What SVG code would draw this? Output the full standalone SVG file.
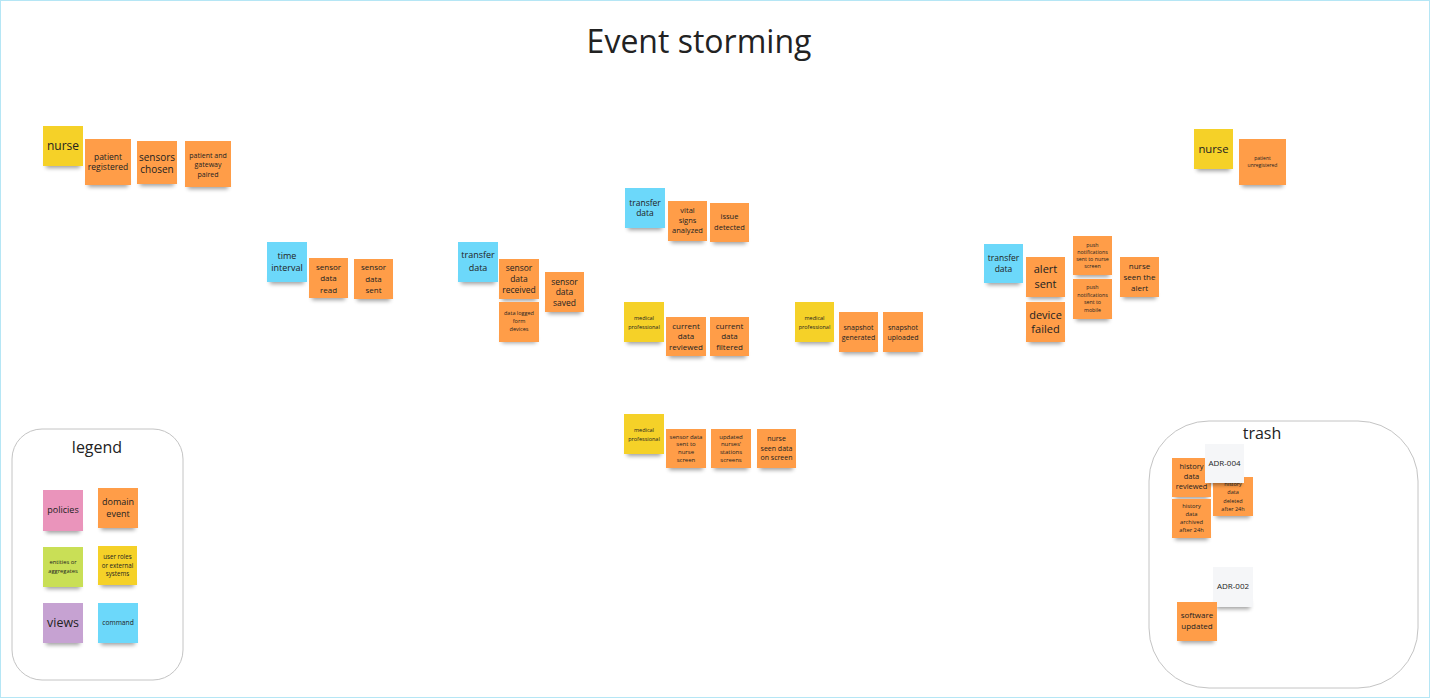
<svg xmlns="http://www.w3.org/2000/svg" width="1430" height="698" viewBox="0 0 1430 698">
<style>
text{font-family:"Open Sans","Noto Sans","Liberation Sans",sans-serif;fill:#222;text-anchor:middle}
.y{fill:#f5d128}.o{fill:#ff9d48}.b{fill:#6cd8fa}.p{fill:#ea94bb}.g{fill:#c9df56}.v{fill:#c6a2d2}.w{fill:#f5f6f8}
.s{fill:#000;opacity:.38;filter:url(#sh)}
.frame{fill:#fff;stroke:#c4c4c4;stroke-width:1}
</style>
<defs>
<filter id="sh" x="-20%" y="-100%" width="140%" height="300%"><feGaussianBlur stdDeviation="2"/></filter>
</defs>
<rect x="0" y="0" width="1430" height="698" fill="#fff"/>
<rect x="0.5" y="0.5" width="1429" height="697" fill="none" stroke="#b5e6f5"/>
<text x="699" y="53" font-size="32" fill="#1a1a1a">Event storming</text>

<g id="legend">
<rect class="frame" x="12" y="429" width="171" height="251" rx="30"/>
<text x="97" y="453" font-size="16" fill="#333">legend</text>
</g>
<g id="trash">
<rect class="frame" x="1149" y="421" width="269" height="267" rx="60"/>
<text x="1262" y="439" font-size="16" fill="#333">trash</text>
</g>

<g id="connectors"></g>

<g id="n-nurse1"><rect class="s" x="46" y="160" width="34" height="8"/><rect class="y" x="43" y="126" width="40" height="40"/><text x="63" y="150.2" font-size="12">nurse</text></g>
<g id="n-patient-registered"><rect class="s" x="88" y="179" width="40" height="8"/><rect class="o" x="85" y="139" width="46" height="46"/><text x="108" font-size="8.5"><tspan x="108" y="159.8">patient</tspan><tspan x="108" y="170.3">registered</tspan></text></g>
<g id="n-sensors-chosen"><rect class="s" x="140" y="178" width="34" height="8"/><rect class="o" x="137" y="141" width="40" height="43"/><text font-size="10"><tspan x="157" y="160.5">sensors</tspan><tspan x="157" y="172.5">chosen</tspan></text></g>
<g id="n-paired"><rect class="s" x="188" y="181" width="40" height="8"/><rect class="o" x="185" y="141" width="46" height="46"/><text font-size="7"><tspan x="208" y="157.5">patient and</tspan><tspan x="208" y="167">gateway</tspan><tspan x="208" y="176.5">paired</tspan></text></g>

<g id="n-time-interval"><rect class="s" x="270" y="276" width="34" height="8"/><rect class="b" x="267" y="242" width="40" height="40"/><text font-size="9"><tspan x="287" y="259.2">time</tspan><tspan x="287" y="271.2">interval</tspan></text></g>
<g id="n-sensor-data-read"><rect class="s" x="312" y="292" width="33" height="8"/><rect class="o" x="309" y="258" width="39" height="40"/><text font-size="8"><tspan x="328.5" y="269.8">sensor</tspan><tspan x="328.5" y="281.3">data</tspan><tspan x="328.5" y="292.8">read</tspan></text></g>
<g id="n-sensor-data-sent"><rect class="s" x="357" y="293" width="33" height="8"/><rect class="o" x="354" y="259" width="39" height="40"/><text font-size="8"><tspan x="373.5" y="270.3">sensor</tspan><tspan x="373.5" y="281.8">data</tspan><tspan x="373.5" y="293.3">sent</tspan></text></g>

<g id="n-transfer-data1"><rect class="s" x="461" y="276" width="34" height="8"/><rect class="b" x="458" y="242" width="40" height="40"/><text font-size="9"><tspan x="478" y="258.4">transfer</tspan><tspan x="478" y="270.9">data</tspan></text></g>
<g id="n-sensor-data-received"><rect class="s" x="502" y="293" width="34" height="8"/><rect class="o" x="499" y="259" width="40" height="40"/><text font-size="8.5"><tspan x="519" y="270.8">sensor</tspan><tspan x="519" y="282">data</tspan><tspan x="519" y="293.2">received</tspan></text></g>
<g id="n-sensor-data-saved"><rect class="s" x="548" y="306" width="33" height="8"/><rect class="o" x="545" y="272" width="39" height="40"/><text font-size="8.5"><tspan x="564.5" y="284.7">sensor</tspan><tspan x="564.5" y="295.3">data</tspan><tspan x="564.5" y="305.7">saved</tspan></text></g>
<g id="n-data-logged"><rect class="s" x="502" y="335" width="34" height="8"/><rect class="o" x="499" y="302" width="40" height="40"/><text font-size="5.5"><tspan x="519" y="314.6">data logged</tspan><tspan x="519" y="322.9">form</tspan><tspan x="519" y="331.2">devices</tspan></text></g>

<g id="n-transfer-data2"><rect class="s" x="628" y="222" width="34" height="8"/><rect class="b" x="625" y="188" width="40" height="40"/><text font-size="8.5"><tspan x="645" y="205.7">transfer</tspan><tspan x="645" y="216.3">data</tspan></text></g>
<g id="n-vital-signs"><rect class="s" x="671" y="235" width="33" height="8"/><rect class="o" x="668" y="201" width="39" height="40"/><text font-size="7.5"><tspan x="687.5" y="212.6">vital</tspan><tspan x="687.5" y="222.9">signs</tspan><tspan x="687.5" y="233.2">analyzed</tspan></text></g>
<g id="n-issue-detected"><rect class="s" x="713" y="236" width="33" height="8"/><rect class="o" x="710" y="203" width="39" height="39"/><text font-size="7.5"><tspan x="729.5" y="219.3">issue</tspan><tspan x="729.5" y="229.9">detected</tspan></text></g>

<g id="n-medical1"><rect class="s" x="627" y="336" width="34" height="8"/><rect class="y" x="624" y="302" width="40" height="40"/><text font-size="5.5"><tspan x="644" y="320.2">medical</tspan><tspan x="644" y="328.5">professional</tspan></text></g>
<g id="n-current-reviewed"><rect class="s" x="669" y="350" width="34" height="8"/><rect class="o" x="666" y="317" width="40" height="39"/><text font-size="8"><tspan x="686" y="328.8">current</tspan><tspan x="686" y="339.3">data</tspan><tspan x="686" y="349.8">reviewed</tspan></text></g>
<g id="n-current-filtered"><rect class="s" x="713" y="350" width="33" height="8"/><rect class="o" x="710" y="317" width="39" height="39"/><text font-size="8"><tspan x="729.5" y="328.8">current</tspan><tspan x="729.5" y="339.3">data</tspan><tspan x="729.5" y="349.8">filtered</tspan></text></g>

<g id="n-medical2"><rect class="s" x="798" y="336" width="33" height="8"/><rect class="y" x="795" y="302" width="39" height="40"/><text font-size="5.5"><tspan x="814.5" y="320.2">medical</tspan><tspan x="814.5" y="328.5">professional</tspan></text></g>
<g id="n-snapshot-generated"><rect class="s" x="842" y="346" width="33" height="8"/><rect class="o" x="839" y="312" width="39" height="40"/><text font-size="7"><tspan x="858.5" y="329.5">snapshot</tspan><tspan x="858.5" y="339.5">generated</tspan></text></g>
<g id="n-snapshot-uploaded"><rect class="s" x="886" y="346" width="34" height="8"/><rect class="o" x="883" y="312" width="40" height="40"/><text font-size="7"><tspan x="903" y="329.5">snapshot</tspan><tspan x="903" y="339.5">uploaded</tspan></text></g>

<g id="n-medical3"><rect class="s" x="627" y="448" width="34" height="8"/><rect class="y" x="624" y="414" width="40" height="40"/><text font-size="5.5"><tspan x="644" y="432.2">medical</tspan><tspan x="644" y="440.5">professional</tspan></text></g>
<g id="n-sent-nurse-screen"><rect class="s" x="669" y="462" width="34" height="8"/><rect class="o" x="666" y="429" width="40" height="39"/><text font-size="6"><tspan x="686" y="438.7">sensor data</tspan><tspan x="686" y="446.3">sent to</tspan><tspan x="686" y="453.9">nurse</tspan><tspan x="686" y="461.5">screen</tspan></text></g>
<g id="n-updated-stations"><rect class="s" x="714" y="462" width="34" height="8"/><rect class="o" x="711" y="429" width="40" height="39"/><text font-size="6"><tspan x="731" y="438.7">updated</tspan><tspan x="731" y="446.3">nurses'</tspan><tspan x="731" y="453.9">stations</tspan><tspan x="731" y="461.5">screens</tspan></text></g>
<g id="n-nurse-seen-data"><rect class="s" x="760" y="462" width="33" height="8"/><rect class="o" x="757" y="429" width="39" height="39"/><text font-size="7"><tspan x="776.5" y="440.8">nurse</tspan><tspan x="776.5" y="450.5">seen data</tspan><tspan x="776.5" y="460.2">on screen</tspan></text></g>

<g id="n-transfer-data3"><rect class="s" x="987" y="277" width="33" height="8"/><rect class="b" x="984" y="244" width="39" height="39"/><text font-size="8.5"><tspan x="1003.5" y="261.3">transfer</tspan><tspan x="1003.5" y="272">data</tspan></text></g>
<g id="n-alert-sent"><rect class="s" x="1029" y="291" width="33" height="8"/><rect class="o" x="1026" y="257" width="39" height="40"/><text font-size="11"><tspan x="1045.5" y="273.2">alert</tspan><tspan x="1045.5" y="288.2">sent</tspan></text></g>
<g id="n-device-failed"><rect class="s" x="1029" y="336" width="33" height="8"/><rect class="o" x="1026" y="302" width="39" height="40"/><text font-size="11"><tspan x="1045.5" y="318.9">device</tspan><tspan x="1045.5" y="333.2">failed</tspan></text></g>
<g id="n-push-screen"><rect class="s" x="1076" y="269" width="33" height="8"/><rect class="o" x="1073" y="236" width="39" height="39"/><text font-size="5.3"><tspan x="1092.5" y="246.9">push</tspan><tspan x="1092.5" y="253.9">notifications</tspan><tspan x="1092.5" y="260.9">sent to nurse</tspan><tspan x="1092.5" y="267.9">screen</tspan></text></g>
<g id="n-push-mobile"><rect class="s" x="1076" y="313" width="33" height="8"/><rect class="o" x="1073" y="279" width="39" height="40"/><text font-size="5.3"><tspan x="1092.5" y="289.4">push</tspan><tspan x="1092.5" y="296.9">notifications</tspan><tspan x="1092.5" y="304.4">sent to</tspan><tspan x="1092.5" y="311.9">mobile</tspan></text></g>
<g id="n-nurse-seen-alert"><rect class="s" x="1123" y="291" width="33" height="8"/><rect class="o" x="1120" y="257" width="39" height="40"/><text font-size="8"><tspan x="1139.5" y="268.8">nurse</tspan><tspan x="1139.5" y="280">seen the</tspan><tspan x="1139.5" y="291.2">alert</tspan></text></g>

<g id="n-nurse2"><rect class="s" x="1197" y="163" width="33" height="8"/><rect class="y" x="1194" y="129" width="39" height="40"/><text x="1213.5" y="153.3" font-size="11.3">nurse</text></g>
<g id="n-patient-unregistered"><rect class="s" x="1242" y="179" width="41" height="8"/><rect class="o" x="1239" y="139" width="47" height="46"/><text font-size="5"><tspan x="1262.5" y="160.1">patient</tspan><tspan x="1262.5" y="167.4">unregistered</tspan></text></g>

<g id="l-policies"><rect class="s" x="46" y="525" width="34" height="8"/><rect class="p" x="43" y="490" width="40" height="41"/><text x="63" y="513.2" font-size="9">policies</text></g>
<g id="l-domain-event"><rect class="s" x="101" y="522" width="34" height="8"/><rect class="o" x="98" y="488" width="40" height="40"/><text font-size="9"><tspan x="118" y="505">domain</tspan><tspan x="118" y="517.3">event</tspan></text></g>
<g id="l-entities"><rect class="s" x="46" y="581" width="34" height="8"/><rect class="g" x="43" y="547" width="40" height="40"/><text font-size="5.8"><tspan x="63" y="563.8">entities or</tspan><tspan x="63" y="573">aggregates</tspan></text></g>
<g id="l-user-roles"><rect class="s" x="101" y="579" width="33" height="8"/><rect class="y" x="98" y="546" width="39" height="39"/><text font-size="6.2"><tspan x="117.5" y="558.9">user roles</tspan><tspan x="117.5" y="567.6">or external</tspan><tspan x="117.5" y="576.3">systems</tspan></text></g>
<g id="l-views"><rect class="s" x="46" y="637" width="34" height="8"/><rect class="v" x="43" y="603" width="40" height="40"/><text x="63" y="627" font-size="12.4">views</text></g>
<g id="l-command"><rect class="s" x="101" y="637" width="34" height="8"/><rect class="b" x="98" y="603" width="40" height="40"/><text x="118" y="624.6" font-size="6.7">command</text></g>

<g id="t-history-reviewed"><rect class="s" x="1175" y="491" width="33" height="8"/><rect class="o" x="1172" y="458" width="39" height="39"/><text font-size="7.5"><tspan x="1191.5" y="469.3">history</tspan><tspan x="1191.5" y="479.3">data</tspan><tspan x="1191.5" y="489.3">reviewed</tspan></text></g>
<g id="t-history-deleted"><rect class="s" x="1216" y="510" width="34" height="8"/><rect class="o" x="1213" y="477" width="40" height="39"/><text font-size="5.5"><tspan x="1233" y="486.2">history</tspan><tspan x="1233" y="494.4">data</tspan><tspan x="1233" y="502.6">deleted</tspan><tspan x="1233" y="510.8">after 24h</tspan></text></g>
<g id="t-adr-004"><rect class="s" x="1208" y="477" width="33" height="8"/><rect class="w" x="1205" y="444" width="39" height="39"/><text x="1224.5" y="465.5" font-size="8" fill="#444">ADR-004</text></g>
<g id="t-history-archived"><rect class="s" x="1175" y="532" width="33" height="8"/><rect class="o" x="1172" y="499" width="39" height="39"/><text font-size="5.8"><tspan x="1191.5" y="507.6">history</tspan><tspan x="1191.5" y="515.7">data</tspan><tspan x="1191.5" y="523.8">archived</tspan><tspan x="1191.5" y="531.9">after 24h</tspan></text></g>
<g id="t-adr-002"><rect class="s" x="1216" y="601" width="34" height="8"/><rect class="w" x="1213" y="567" width="40" height="40"/><text x="1233" y="588.8" font-size="8" fill="#444">ADR-002</text></g>
<g id="t-software-updated"><rect class="s" x="1180" y="635" width="34" height="8"/><rect class="o" x="1177" y="602" width="40" height="39"/><text font-size="8"><tspan x="1197" y="617.8">software</tspan><tspan x="1197" y="628.5">updated</tspan></text></g>
</svg>
